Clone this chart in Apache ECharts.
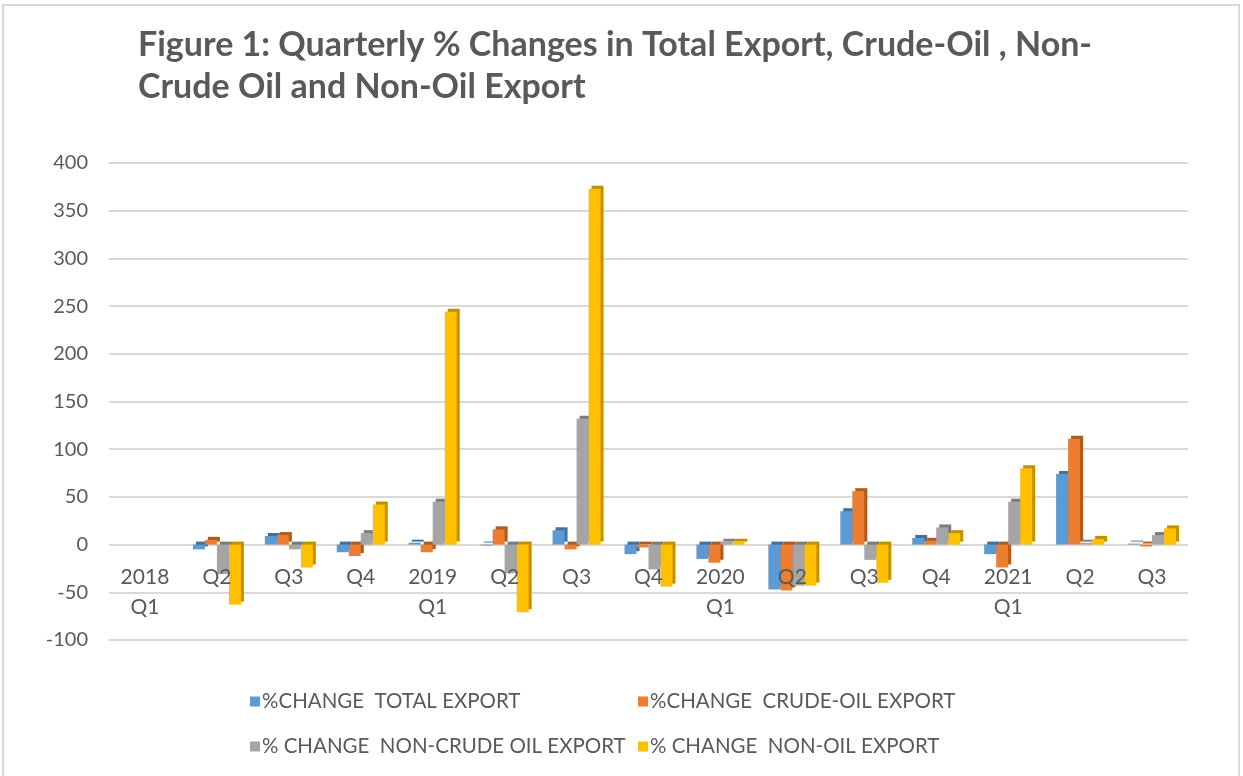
<!DOCTYPE html>
<html lang="en">
<head>
    <meta charset="UTF-8">
    <title>Figure 1</title>
    <script src="https://cdn.jsdelivr.net/npm/echarts@6/dist/echarts.min.js"></script>
    <style>
        *{
            margin:0;
            padding:0;
        }
        body {
            background: #fff;
        }
        #main {
            width: 1243px;
            height: 776px;
        }
    </style>
</head>
<body>
<div id="main"></div>
<script>
    // quarters
    var categories = ['2018\nQ1','Q2','Q3','Q4','2019\nQ1','Q2','Q3','Q4','2020\nQ1','Q2','Q3','Q4','2021\nQ1','Q2','Q3'];

    // % changes
    var totalExport    = [0, -5,  9,  -8,   2,  -1,  15, -10, -15, -47,  35,  7, -10,  74,  1];
    var crudeOilExport = [0,  5, 10, -12,  -8,  16,  -5,  -3, -19, -48,  56,  4, -24, 111, -2];
    var nonCrudeExport = [0, -31, -5, 12,  45, -30, 132, -26,   3, -43, -16, 18,  45,   2, 10];
    var nonOilExport   = [0, -63, -24, 42, 244, -71, 373, -44,   3, -43, -40, 12,  80,   6, 17];

    var seriesNames = ['%CHANGE  TOTAL EXPORT', '%CHANGE  CRUDE-OIL EXPORT',
                       '% CHANGE  NON-CRUDE OIL EXPORT', '% CHANGE  NON-OIL EXPORT'];
    var colors = ['#5B9BD5', '#ED7D31', '#A5A5A5', '#FFC000'];
    var sides  = ['#41719C', '#AE5A21', '#7C7C7C', '#BF9000'];

    var yTicks = {min: -100, max: 400, interval: 50};

    var textColor = '#595959';
    var font = 'Lato, "Open Sans", sans-serif';

    var gridTop = 163, gridBottom = 136, chartH = 776;

    window.onload = function(){

        var chart = echarts.init(document.getElementById('main'));

        // distance from the grid bottom up to the zero line
        var plotH = chartH - gridTop - gridBottom;
        var zeroUp = plotH * (0 - yTicks.min) / (yTicks.max - yTicks.min);

        function bar(i, data){
            return {
                name: seriesNames[i],
                type: 'bar',
                data: data,
                barWidth: 12,
                barGap: '0%',
                itemStyle: {
                    color: colors[i],
                    shadowColor: sides[i],
                    shadowOffsetX: 3,
                    shadowOffsetY: -3,
                    shadowBlur: 0
                }
            };
        }

        function legend(i, left, top){
            return {
                data: [seriesNames[i]],
                left: left,
                top: top,
                itemWidth: 10,
                itemHeight: 10,
                icon: 'rect',
                textStyle: {color: textColor, fontSize: 20.5, fontFamily: font, padding: [0,0,0,-3]}
            };
        }

        var option = {
            backgroundColor: '#fff',
            animation: false,
            color: colors,
            title: {
                text: 'Figure 1: Quarterly % Changes in Total Export, Crude-Oil , Non-\nCrude Oil and Non-Oil Export',
                left: 133,
                top: 19,
                textStyle: {
                    color: textColor,
                    fontSize: 34,
                    fontWeight: 'bold',
                    fontFamily: font,
                    lineHeight: 42
                }
            },
            legend: [
                legend(0, 245, 686),
                legend(1, 633, 686),
                legend(2, 245, 731),
                legend(3, 633, 731)
            ],
            grid: {
                left: 109,
                right: 55,
                top: gridTop,
                bottom: gridBottom
            },
            xAxis: {
                type: 'category',
                data: categories,
                offset: -zeroUp,
                z: 10,
                axisLine: {show: false, onZero: false},
                axisTick: {show: false},
                axisLabel: {
                    color: textColor,
                    fontSize: 21,
                    fontFamily: font,
                    lineHeight: 30,
                    margin: 18,
                    interval: 0
                }
            },
            yAxis: {
                type: 'value',
                min: yTicks.min,
                max: yTicks.max,
                interval: yTicks.interval,
                axisLine: {show: false},
                axisTick: {show: false},
                axisLabel: {
                    color: textColor,
                    fontSize: 20,
                    fontFamily: font,
                    margin: 21
                },
                splitLine: {lineStyle: {color: '#d9d9d9', width: 2}}
            },
            graphic: [{
                type: 'rect',
                shape: {x: 3, y: 5, width: 1236, height: 780},
                style: {fill: null, stroke: '#d9d9d9', lineWidth: 2},
                silent: true
            }],
            series: [
                bar(0, totalExport),
                bar(1, crudeOilExport),
                bar(2, nonCrudeExport),
                bar(3, nonOilExport)
            ]
        };

        chart.setOption(option);
    };
</script>
</body>
</html>
